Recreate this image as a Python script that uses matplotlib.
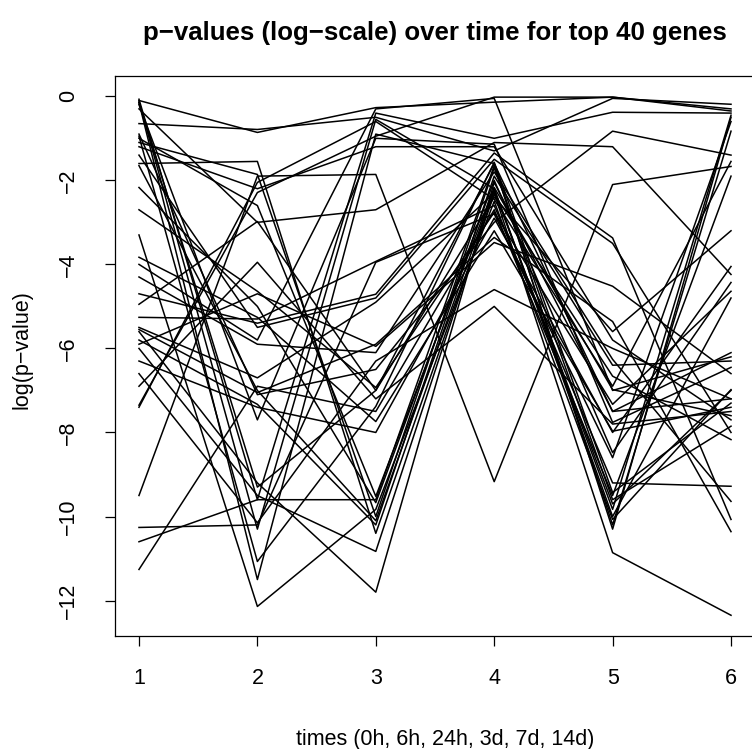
import numpy as np
import matplotlib
matplotlib.use("Agg")
import matplotlib.pyplot as plt

plt.rcParams["font.family"] = ["Liberation Sans", "DejaVu Sans"]

# time points (x) and log p-values per gene
times = [1, 2, 3, 4, 5, 6]
genes = [
    [-0.65, -0.79, -0.50, -1.30, -0.05, -0.19],
    [-0.10, -0.86, -0.27, -0.14, -0.02, -0.30],
    [-0.07, -9.60, -0.40, -1.00, -0.38, -0.40],
    [-0.12, -10.30, -0.55, -2.20, -9.83, -0.45],
    [-0.15, -11.50, -0.90, -1.60, -10.30, -0.50],
    [-0.20, -7.70, -1.00, -1.14, -7.76, -6.45],
    [-0.95, -11.07, -7.38, -1.57, -9.43, -7.30],
    [-1.00, -2.60, -9.52, -2.17, -6.98, -7.60],
    [-1.10, -1.86, -10.00, -1.70, -9.60, -7.85],
    [-1.60, -1.55, -10.40, -2.33, -6.66, -8.17],
    [-2.17, -5.00, -9.67, -2.00, -8.48, -4.43],
    [-2.70, -4.64, -6.93, -2.76, -7.33, -4.64],
    [-3.30, -12.14, -9.83, -2.50, -10.07, -6.98],
    [-3.83, -5.26, -7.74, -3.20, -7.97, -7.40],
    [-4.30, -5.90, -6.10, -1.80, -6.26, -9.64],
    [-4.70, -5.40, -4.71, -1.35, -3.37, -10.07],
    [-4.95, -2.98, -7.00, -2.40, -5.60, -3.20],
    [-5.26, -5.30, -3.93, -2.60, -9.20, -9.28],
    [-5.50, -6.70, -4.90, -2.30, -10.86, -12.35],
    [-5.55, -7.05, -5.90, -3.36, -5.36, -10.36],
    [-5.60, -9.20, -11.80, -2.05, -7.50, -6.10],
    [-5.80, -7.33, -10.20, -1.90, -6.40, -6.30],
    [-5.90, -4.70, -5.95, -3.48, -4.52, -6.60],
    [-6.00, -9.50, -10.83, -2.25, -9.70, -7.00],
    [-6.30, -7.40, -8.00, -2.90, -8.00, -4.05],
    [-6.60, -10.15, -6.30, -4.60, -6.00, -7.20],
    [-6.90, -3.95, -7.20, -5.00, -7.80, -7.50],
    [-7.35, -2.29, -0.95, -0.02, -0.02, -0.35],
    [-7.40, -2.05, -0.60, -2.45, -6.90, -1.55],
    [-9.50, -1.90, -1.86, -9.17, -2.10, -1.67],
    [-10.26, -10.20, -3.95, -2.80, -8.60, -0.60],
    [-10.60, -9.60, -9.60, -1.65, -10.20, -0.83],
    [-11.26, -6.90, -7.50, -2.70, -9.50, -1.90],
    [-0.30, -3.00, -2.70, -1.10, -1.20, -4.24],
    [-0.90, -7.10, -6.50, -3.00, -0.83, -1.40],
    [-1.20, -2.20, -1.20, -1.20, -5.80, -7.70],
    [-1.40, -5.50, -4.80, -1.50, -3.50, -8.00],
    [-1.65, -7.00, -10.10, -2.20, -10.00, -4.80],
    [-4.00, -5.80, -0.30, -0.05, -7.00, -6.20],
    [-0.15, -9.30, -7.00, -1.60, -7.50, -7.20],
]
yticks = [0, -2, -4, -6, -8, -10, -12]

W, H = 752, 749
fig = plt.figure(figsize=(W / 100, H / 100), dpi=100)
ax = fig.add_axes([115.3 / W, 1 - 636 / H, (754.7 - 115.3) / W, (636 - 76.4) / H])

vals = np.array(genes)
for row in vals:
    ax.plot(times, row, color="black", lw=1.1)

# R style 4% padding
xmin, xmax = min(times), max(times)
ymin, ymax = vals.min(), vals.max()
ax.set_xlim(xmin - 0.04 * (xmax - xmin), xmax + 0.04 * (xmax - xmin))
ax.set_ylim(ymin - 0.04 * (ymax - ymin), ymax + 0.04 * (ymax - ymin))

ax.set_xticks(times)
ax.set_yticks(yticks)
ax.set_yticklabels([f"{t}".replace("-", "\u2212") for t in yticks], rotation=90, va="center")
ax.tick_params(axis="both", direction="out", length=7, width=0.9, labelsize=15.5)
ax.tick_params(axis="x", pad=16)
ax.tick_params(axis="y", pad=19)
for s in ax.spines.values():
    s.set_linewidth(0.9)

fig.text(435 / W, 1 - 33 / H, "p\u2212values (log\u2212scale) over time for top 40 genes",
         ha="center", va="center", fontsize=18.6, fontweight="bold")
fig.text(445 / W, 1 - 740 / H, "times (0h, 6h, 24h, 3d, 7d, 14d)",
         ha="center", va="center", fontsize=15.5)
fig.text(22 / W, 1 - 350 / H, "log(p\u2212value)", ha="center", va="center",
         rotation=90, fontsize=15.5)

fig.savefig("out.png", dpi=100)
